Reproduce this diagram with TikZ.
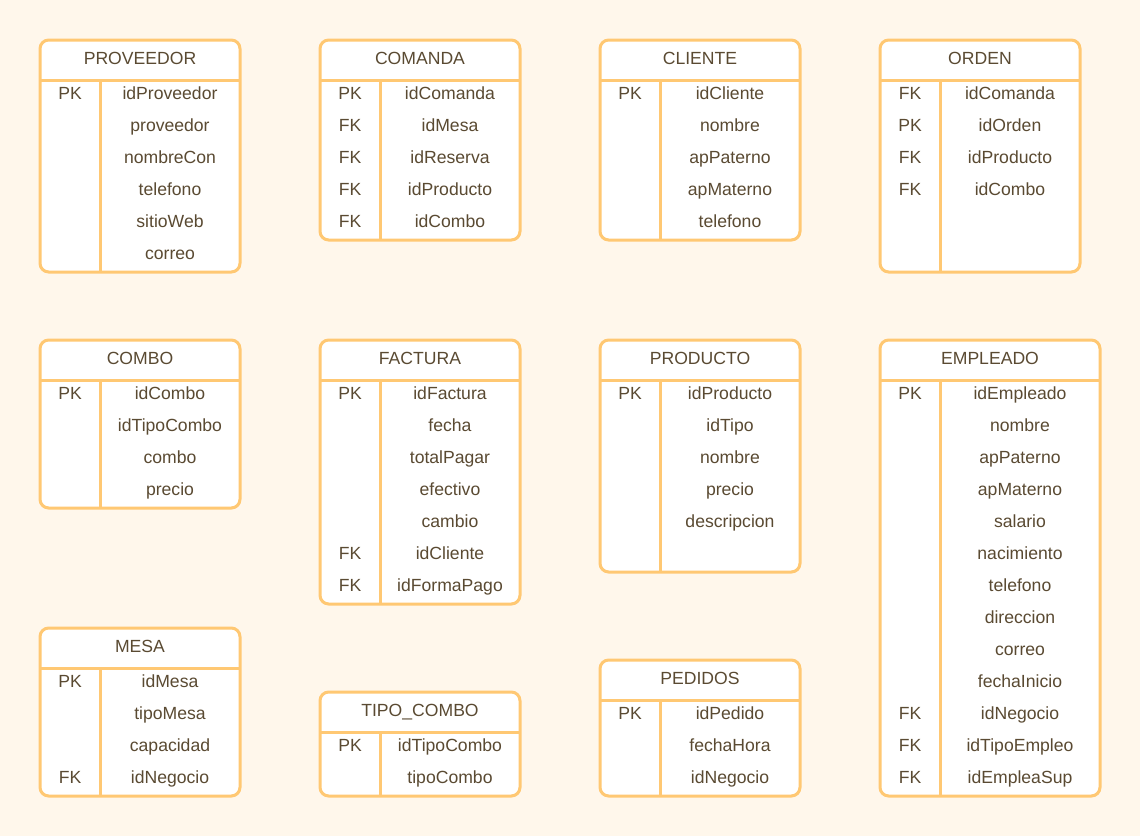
\documentclass[tikz,border=0pt]{standalone}
\usepackage{fontspec}
\setmainfont{Liberation Sans}
\usepackage{tikz}
\definecolor{fondo}{HTML}{FFF7EB}
\definecolor{borde}{HTML}{FFC873}
\definecolor{letra}{HTML}{5A4A32}
\tikzset{
	tabla/.style={draw=borde, line width=2.25pt, fill=white, rounded corners=6.5pt},
	linea/.style={draw=borde, line width=2.25pt},
	texto/.style={text=letra, anchor=base, inner sep=0pt, font=\fontsize{13.2}{16}\selectfont},
}
% [nombre](x,y)(ancho:filas){titulo}{clave/campo,...}
\def\entidad[#1](#2,#3)(#4:#5)#6#7{
	\draw[tabla] (#2,#3) rectangle ({#2+#4},{#3+40+32*#5});
	\draw[linea] (#2,#3+40) -- ++(#4,0);
	\draw[linea] (#2+60,#3+40) -- ++(0,32*#5);
	\node[texto] (#1) at ({#2+#4/2},#3+24) {#6};
	\foreach \k/\c [count=\i] in {#7}{
		\node[texto] (#1-k\i) at ({#2+30},{#3+27.5+32*\i}) {\k};
		\node[texto] (#1-c\i) at ({#2+60+(#4-60)/2},{#3+27.5+32*\i}) {\c};
	}
}

\begin{document}
\begin{tikzpicture}[x=0.75pt, y=-0.75pt]
			%%%%% START %%%%%
			
			\fill[fondo] (0,0) rectangle (1140,836);
			\useasboundingbox (0,0) rectangle (1140,836);
			
			\entidad[proveedor](40,40)(200:6){PROVEEDOR}{PK/idProveedor, /proveedor, /nombreCon, /telefono, /sitioWeb, /correo}
			\entidad[comanda](320,40)(200:5){COMANDA}{PK/idComanda, FK/idMesa, FK/idReserva, FK/idProducto, FK/idCombo}
			\entidad[cliente](600,40)(200:5){CLIENTE}{PK/idCliente, /nombre, /apPaterno, /apMaterno, /telefono}
			\entidad[orden](880,40)(200:6){ORDEN}{FK/idComanda, PK/idOrden, FK/idProducto, FK/idCombo}
			
			\entidad[combo](40,340)(200:4){COMBO}{PK/idCombo, /idTipoCombo, /combo, /precio}
			\entidad[factura](320,340)(200:7){FACTURA}{PK/idFactura, /fecha, /totalPagar, /efectivo, /cambio, FK/idCliente, FK/idFormaPago}
			\entidad[producto](600,340)(200:6){PRODUCTO}{PK/idProducto, /idTipo, /nombre, /precio, /descripcion}
			\entidad[empleado](880,340)(220:13){EMPLEADO}{PK/idEmpleado, /nombre, /apPaterno, /apMaterno, /salario, /nacimiento, /telefono, /direccion, /correo, /fechaInicio, FK/idNegocio, FK/idTipoEmpleo, FK/idEmpleaSup}
			
			\entidad[mesa](40,628)(200:4){MESA}{PK/idMesa, /tipoMesa, /capacidad, FK/idNegocio}
			\entidad[tipocombo](320,692)(200:2){TIPO\_COMBO}{PK/idTipoCombo, /tipoCombo}
			\entidad[pedidos](600,660)(200:3){PEDIDOS}{PK/idPedido, /fechaHora, /idNegocio}
			
			%%%%% END %%%%%
\end{tikzpicture}
\end{document}
